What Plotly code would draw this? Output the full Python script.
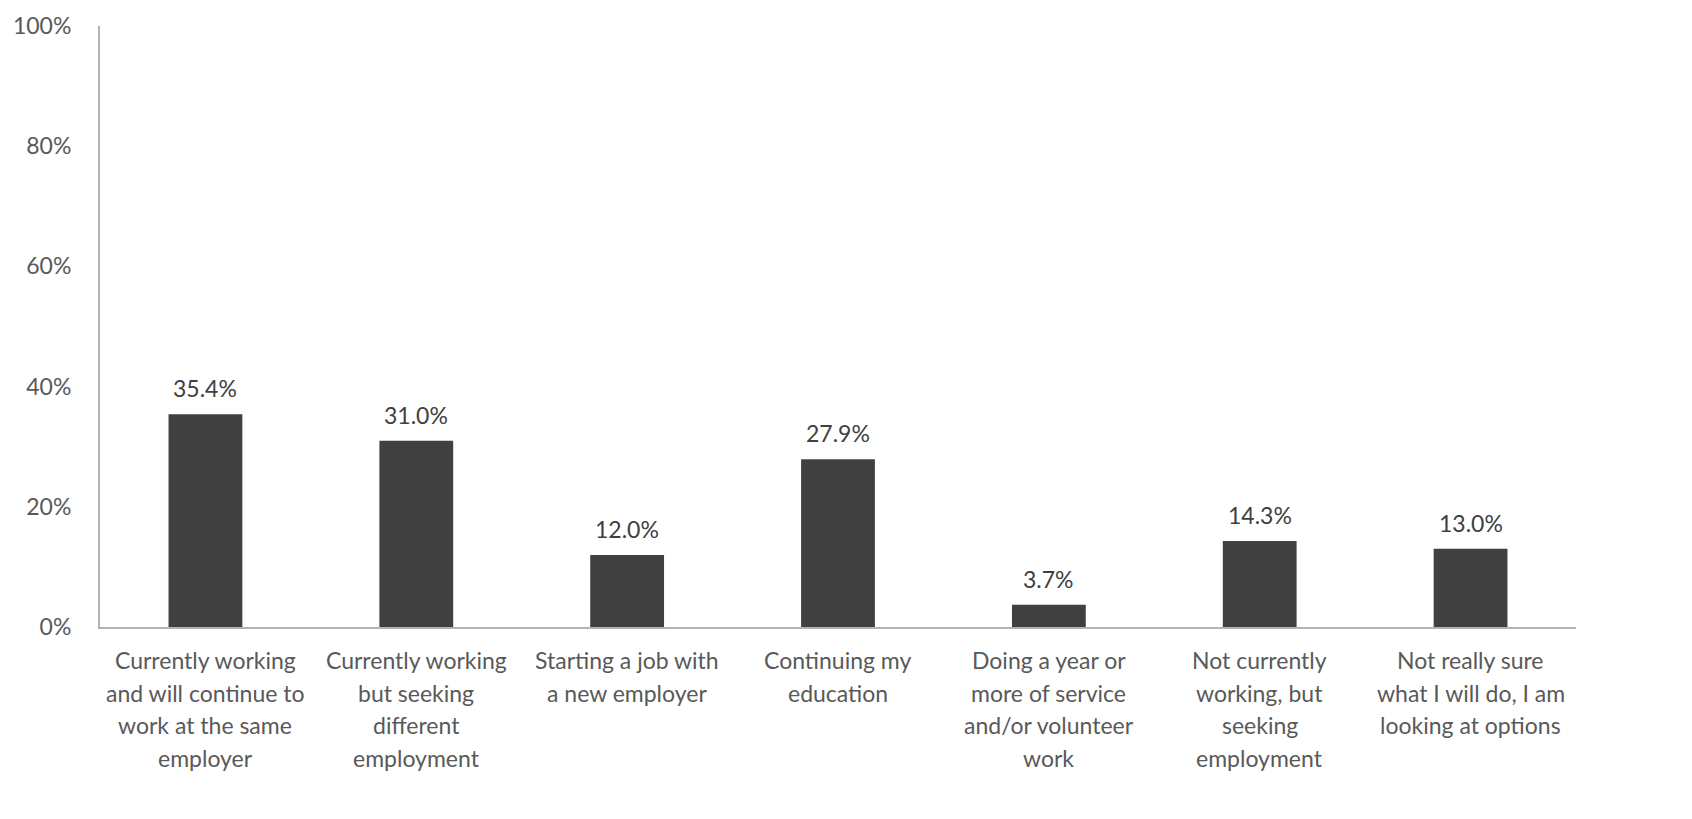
import plotly.graph_objects as go

categories = [
    "Currently working<br>and will continue to<br>work at the same<br>employer",
    "Currently working<br>but seeking<br>different<br>employment",
    "Starting a job with<br>a new employer",
    "Continuing my<br>education",
    "Doing a year or<br>more of service<br>and/or volunteer<br>work",
    "Not currently<br>working, but<br>seeking<br>employment",
    "Not really sure<br>what I will do, I am<br>looking at options",
]
values = [0.354, 0.310, 0.120, 0.279, 0.037, 0.143, 0.130]
y_ticks = [0, 0.2, 0.4, 0.6, 0.8, 1.0]
y_ticktext = ["0%", "20%", "40%", "60%", "80%", "100%"]

FONT = "Lato, Carlito, Calibri, sans-serif"
TXT = "#595959"
x_idx = list(range(len(categories)))

fig = go.Figure()
fig.add_trace(go.Bar(
    x=x_idx, y=values,
    marker=dict(color="#404040", line=dict(width=0)),
    cliponaxis=False, width=0.35,
))

annotations = []
for i, v in enumerate(values):
    annotations.append(dict(
        x=i, y=v, xref="x", yref="y", text=f"{v * 100:.1f}%", showarrow=False,
        yanchor="middle", xanchor="center", yshift=26,
        font=dict(family=FONT, size=23, color="#404040"),
    ))
for i, cat in enumerate(categories):
    for j, line in enumerate(cat.split("<br>")):
        annotations.append(dict(
            x=i, y=0, xref="x", yref="y", text=line, showarrow=False,
            yanchor="middle", xanchor="center", yshift=-(33 + j * 32.7),
            font=dict(family=FONT, size=23, color=TXT),
        ))

fig.update_layout(
    width=1692, height=819,
    margin=dict(l=92, r=124, t=18, b=200),
    paper_bgcolor="white", plot_bgcolor="white",
    showlegend=False,
    annotations=annotations,
    xaxis=dict(range=[-0.5, len(categories) - 0.5], showticklabels=False,
               showline=True, linecolor="#b3b3b3", linewidth=2, ticks="",
               showgrid=False, zeroline=False, automargin=False),
    yaxis=dict(range=[0, 1], tickvals=y_ticks, ticktext=y_ticktext,
               showline=True, linecolor="#b3b3b3", linewidth=2, ticks="",
               showgrid=False, zeroline=False, ticklabelstandoff=22,
               automargin=False,
               tickfont=dict(family=FONT, size=23, color=TXT)),
)

fig.write_html("out.html")
